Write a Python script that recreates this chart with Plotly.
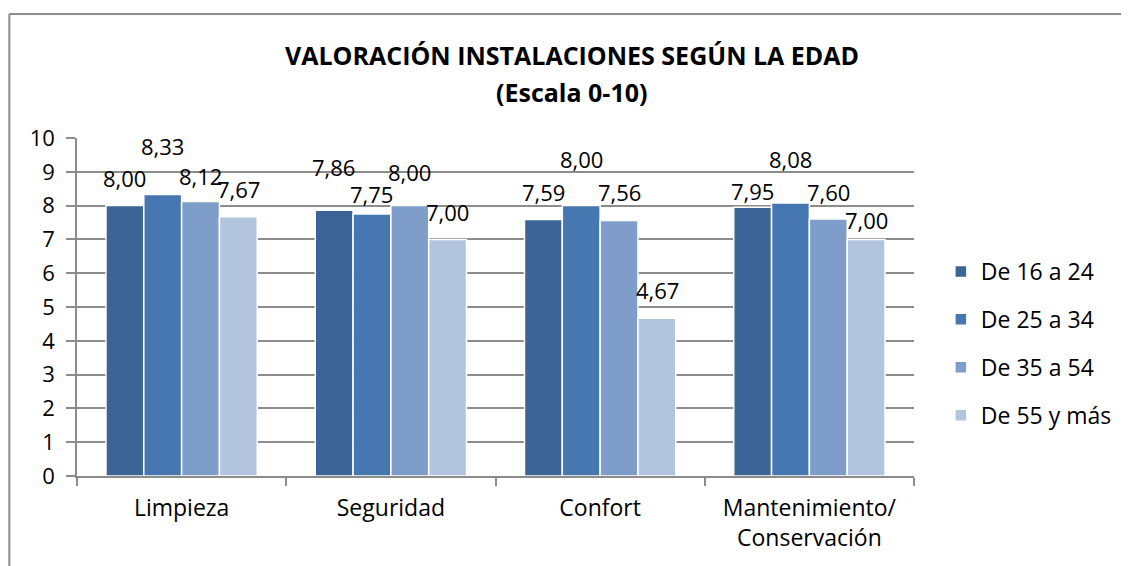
import plotly.graph_objects as go

categories = ["Limpieza", "Seguridad", "Confort", "Mantenimiento/<br>Conservación"]
series_names = ["De 16 a 24", "De 25 a 34", "De 35 a 54", "De 55 y más"]
v_16_24 = [8.00, 7.86, 7.59, 7.95]
v_25_34 = [8.33, 7.75, 8.00, 8.08]
v_35_54 = [8.12, 8.00, 7.56, 7.60]
v_55_mas = [7.67, 7.00, 4.67, 7.00]
y_ticks = [0, 1, 2, 3, 4, 5, 6, 7, 8, 9, 10]

series_values = [v_16_24, v_25_34, v_35_54, v_55_mas]
colors = ["#3D6497", "#4777B0", "#7F9DC9", "#B3C4DF"]
# label lift above bar top (px), per series per category (style only)
label_lift = [
    [28, 43, 27, 16],
    [48, 20, 47, 44],
    [26, 34, 28, 27],
    [28, 27, 28, 19],
]

# page body has an 8px margin; work in figure coordinates
OFF = 8
W, H = 1129 - OFF, 566 - OFF
ML = 77 - OFF
MT = 138 - OFF
MR = W - (918 - OFF)
MB = H - (476 - OFF)
PW = W - ML - MR
PH = H - MT - MB
BARGAP = 0.277
FONT = "Open Sans"

fig = go.Figure()
for name, vals, col in zip(series_names, series_values, colors):
    fig.add_trace(go.Bar(
        x=categories, y=vals, name=name, legendgroup=name,
        marker=dict(color=col, line=dict(color="white", width=1.5)),
        hoverinfo="x+y+name",
    ))

cat_w = PW / len(categories)
bar_w = cat_w * (1 - BARGAP) / len(series_names)
annotations = []
for i, vals in enumerate(series_values):
    for j, v in enumerate(vals):
        annotations.append(dict(
            x=categories[j], y=v, xref="x", yref="y",
            text=f"{v:.2f}".replace(".", ","),
            showarrow=False, xanchor="center", yanchor="middle",
            xshift=(i - (len(series_names) - 1) / 2) * bar_w,
            yshift=label_lift[i][j],
            font=dict(family=FONT, size=22, color="#000000"),
        ))

def px_to_xpaper(px):
    return (px - OFF - ML) / PW

def px_to_ypaper(py):
    return (H - MB - (py - OFF)) / PH

annotations.append(dict(
    x=px_to_xpaper(574), y=px_to_ypaper(55), xref="paper", yref="paper",
    text="<b>VALORACIÓN INSTALACIONES SEGÚN LA EDAD</b>", showarrow=False,
    xanchor="center", yanchor="middle",
    font=dict(family=FONT, size=25, color="#000000"),
))
annotations.append(dict(
    x=px_to_xpaper(574), y=px_to_ypaper(92), xref="paper", yref="paper",
    text="<b>(Escala 0-10)</b>", showarrow=False,
    xanchor="center", yanchor="middle",
    font=dict(family=FONT, size=25, color="#000000"),
))

shapes = [
    dict(type="line", xref="paper", yref="paper",
         x0=px_to_xpaper(9), x1=px_to_xpaper(9),
         y0=px_to_ypaper(14), y1=px_to_ypaper(570),
         line=dict(color="#8C8C8C", width=2)),
    dict(type="line", xref="paper", yref="paper",
         x0=px_to_xpaper(9), x1=px_to_xpaper(1135),
         y0=px_to_ypaper(14), y1=px_to_ypaper(14),
         line=dict(color="#8C8C8C", width=2)),
]

fig.update_layout(
    width=W, height=H,
    margin=dict(l=ML, r=MR, t=MT, b=MB, pad=0),
    paper_bgcolor="white", plot_bgcolor="white",
    barmode="group", bargap=BARGAP, bargroupgap=0,
    font=dict(family=FONT, size=22, color="#000000"),
    showlegend=True,
    legend=dict(
        x=px_to_xpaper(945), xanchor="left",
        y=px_to_ypaper(250), yanchor="top",
        font=dict(family=FONT, size=23, color="#000000"),
        tracegroupgap=15, traceorder="grouped",
        bgcolor="rgba(0,0,0,0)",
    ),
    xaxis=dict(
        showline=True, linecolor="#8C8C8C", linewidth=1.5,
        ticks="outside", tickson="boundaries", ticklen=8,
        tickcolor="#8C8C8C", tickwidth=1.5,
        showgrid=False, ticklabelstandoff=11,
        tickfont=dict(family=FONT, size=23),
    ),
    yaxis=dict(
        range=[0, 10], tickvals=y_ticks,
        showline=True, linecolor="#8C8C8C", linewidth=1.5,
        ticks="outside", ticklen=9, tickcolor="#8C8C8C", tickwidth=1.5,
        showgrid=True, gridcolor="#8C8C8C", gridwidth=1.5,
        zeroline=False, ticklabelstandoff=7,
        tickfont=dict(family=FONT, size=22),
    ),
    annotations=annotations,
    shapes=shapes,
)

fig.write_html("out.html")
